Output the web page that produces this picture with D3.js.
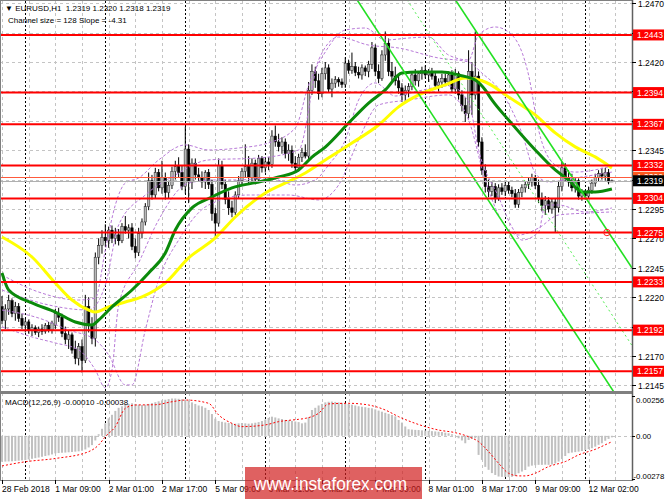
<!DOCTYPE html>
<html><head><meta charset="utf-8">
<script src="https://cdn.jsdelivr.net/npm/d3@7"></script>
<style>body{margin:0;background:#fff}svg{display:block}text{font-family:"Liberation Sans",Arial,sans-serif}</style>
</head><body><svg id="c" width="665" height="499"></svg>
<script>
// ---------- DATA ----------
const bars=[ // [open, high, low, close] EURUSD H1
[1.2212,1.2221,1.2197,1.2200],[1.2200,1.2214,1.2193,1.2210],[1.2210,1.2222,1.2205,1.2217],[1.2217,1.2219,1.2203,1.2206],
[1.2206,1.2216,1.2200,1.2212],[1.2212,1.2215,1.2199,1.2202],[1.2202,1.2206,1.2193,1.2196],[1.2196,1.2202,1.2190,1.2199],
[1.2199,1.2201,1.2189,1.2192],[1.2192,1.2197,1.2187,1.2194],[1.2194,1.2196,1.2188,1.2190],[1.2190,1.2195,1.2186,1.2193],
[1.2193,1.2197,1.2188,1.2191],[1.2191,1.2198,1.2189,1.2196],[1.2196,1.2199,1.2190,1.2192],[1.2192,1.2200,1.2189,1.2198],
[1.2196,1.2210,1.2193,1.2206],[1.2206,1.2211,1.2199,1.2203],[1.2203,1.2206,1.2186,1.2189],[1.2189,1.2195,1.2180,1.2184],
[1.2184,1.2192,1.2176,1.2188],[1.2188,1.2190,1.2172,1.2175],[1.2176,1.2183,1.2163,1.2168],[1.2168,1.2181,1.2162,1.2178],
[1.2178,1.2184,1.2156,1.2166],[1.2166,1.2222,1.2164,1.2212],[1.2212,1.2220,1.2190,1.2196],[1.2196,1.2203,1.2180,1.2185],
[1.2185,1.2258,1.2178,1.2254],[1.2254,1.2270,1.2248,1.2264],[1.2264,1.2277,1.2257,1.2271],[1.2271,1.2282,1.2263,1.2268],
[1.2268,1.2280,1.2262,1.2277],[1.2277,1.2281,1.2266,1.2270],[1.2270,1.2279,1.2265,1.2273],[1.2273,1.2278,1.2264,1.2268],
[1.2268,1.2283,1.2266,1.2280],[1.2280,1.2289,1.2274,1.2277],[1.2277,1.2282,1.2270,1.2279],[1.2279,1.2283,1.2260,1.2263],
[1.2263,1.2270,1.2253,1.2258],[1.2258,1.2279,1.2255,1.2274],[1.2274,1.2287,1.2270,1.2284],[1.2284,1.2300,1.2281,1.2297],
[1.2297,1.2326,1.2294,1.2319],[1.2319,1.2324,1.2303,1.2307],[1.2307,1.2330,1.2304,1.2326],[1.2326,1.2329,1.2310,1.2313],
[1.2313,1.2336,1.2308,1.2322],[1.2322,1.2326,1.2303,1.2309],[1.2309,1.2318,1.2304,1.2315],[1.2315,1.2331,1.2312,1.2327],
[1.2327,1.2336,1.2320,1.2331],[1.2331,1.2339,1.2322,1.2326],[1.2326,1.2332,1.2311,1.2314],[1.2314,1.2365,1.2308,1.2346],
[1.2346,1.2350,1.2300,1.2318],[1.2318,1.2338,1.2312,1.2334],[1.2334,1.2338,1.2320,1.2324],[1.2324,1.2330,1.2318,1.2322],
[1.2322,1.2327,1.2313,1.2318],[1.2318,1.2328,1.2312,1.2326],[1.2326,1.2329,1.2312,1.2316],[1.2316,1.2320,1.2285,1.2291],
[1.2291,1.2296,1.2271,1.2283],[1.2283,1.2338,1.2280,1.2332],[1.2332,1.2336,1.2312,1.2316],[1.2316,1.2320,1.2299,1.2303],
[1.2303,1.2310,1.2290,1.2296],[1.2296,1.2302,1.2288,1.2292],[1.2292,1.2310,1.2290,1.2307],[1.2307,1.2323,1.2304,1.2319],
[1.2319,1.2330,1.2315,1.2327],[1.2327,1.2350,1.2322,1.2331],[1.2331,1.2340,1.2316,1.2322],[1.2322,1.2338,1.2318,1.2334],
[1.2334,1.2337,1.2316,1.2320],[1.2320,1.2341,1.2317,1.2338],[1.2338,1.2340,1.2326,1.2330],[1.2330,1.2338,1.2326,1.2335],
[1.2335,1.2339,1.2328,1.2333],[1.2333,1.2362,1.2330,1.2357],[1.2357,1.2366,1.2348,1.2352],[1.2352,1.2359,1.2344,1.2348],
[1.2348,1.2356,1.2342,1.2352],[1.2352,1.2355,1.2338,1.2342],[1.2342,1.2350,1.2336,1.2345],[1.2345,1.2349,1.2330,1.2334],
[1.2334,1.2340,1.2326,1.2330],[1.2330,1.2342,1.2327,1.2339],[1.2339,1.2347,1.2335,1.2343],[1.2343,1.2350,1.2338,1.2340],
[1.2340,1.2403,1.2337,1.2396],[1.2396,1.2418,1.2392,1.2412],[1.2412,1.2416,1.2398,1.2404],[1.2404,1.2410,1.2388,1.2393],
[1.2393,1.2415,1.2390,1.2410],[1.2410,1.2420,1.2405,1.2415],[1.2415,1.2418,1.2394,1.2397],[1.2397,1.2406,1.2390,1.2402],
[1.2402,1.2408,1.2398,1.2405],[1.2405,1.2407,1.2399,1.2403],[1.2403,1.2406,1.2398,1.2401],[1.2401,1.2424,1.2398,1.2419],
[1.2419,1.2422,1.2410,1.2413],[1.2413,1.2428,1.2410,1.2416],[1.2416,1.2420,1.2408,1.2411],[1.2411,1.2416,1.2406,1.2409],
[1.2409,1.2418,1.2405,1.2415],[1.2415,1.2417,1.2408,1.2412],[1.2412,1.2421,1.2407,1.2418],[1.2418,1.2437,1.2414,1.2432],
[1.2432,1.2435,1.2408,1.2412],[1.2412,1.2418,1.2402,1.2406],[1.2406,1.2430,1.2404,1.2426],[1.2426,1.2446,1.2421,1.2436],
[1.2436,1.2440,1.2408,1.2412],[1.2412,1.2420,1.2404,1.2408],[1.2408,1.2416,1.2400,1.2404],[1.2404,1.2410,1.2393,1.2398],
[1.2398,1.2402,1.2386,1.2392],[1.2392,1.2400,1.2385,1.2396],[1.2396,1.2402,1.2390,1.2399],[1.2399,1.2412,1.2396,1.2409],
[1.2409,1.2414,1.2400,1.2404],[1.2404,1.2412,1.2399,1.2410],[1.2410,1.2416,1.2405,1.2413],[1.2413,1.2417,1.2406,1.2409],
[1.2409,1.2414,1.2403,1.2411],[1.2411,1.2415,1.2405,1.2408],[1.2408,1.2411,1.2397,1.2400],[1.2400,1.2406,1.2395,1.2403],
[1.2403,1.2410,1.2398,1.2406],[1.2406,1.2410,1.2400,1.2403],[1.2403,1.2412,1.2400,1.2409],[1.2409,1.2413,1.2394,1.2397],
[1.2397,1.2414,1.2393,1.2410],[1.2410,1.2412,1.2388,1.2392],[1.2392,1.2396,1.2378,1.2383],[1.2383,1.2390,1.2369,1.2376],
[1.2376,1.2430,1.2372,1.2412],[1.2412,1.2420,1.2375,1.2392],[1.2392,1.2446,1.2388,1.2408],[1.2408,1.2412,1.2348,1.2352],
[1.2352,1.2356,1.2324,1.2328],[1.2328,1.2333,1.2309,1.2314],[1.2314,1.2320,1.2305,1.2310],[1.2310,1.2318,1.2306,1.2314],
[1.2314,1.2317,1.2300,1.2304],[1.2304,1.2316,1.2302,1.2313],[1.2313,1.2317,1.2307,1.2310],[1.2310,1.2318,1.2306,1.2315],
[1.2315,1.2318,1.2308,1.2311],[1.2311,1.2314,1.2305,1.2308],[1.2308,1.2312,1.2296,1.2299],[1.2299,1.2312,1.2296,1.2309],
[1.2309,1.2316,1.2305,1.2313],[1.2313,1.2318,1.2309,1.2316],[1.2316,1.2322,1.2312,1.2318],[1.2318,1.2325,1.2314,1.2322],
[1.2322,1.2324,1.2312,1.2315],[1.2315,1.2320,1.2300,1.2304],[1.2304,1.2309,1.2293,1.2298],[1.2298,1.2306,1.2290,1.2302],
[1.2302,1.2305,1.2292,1.2295],[1.2295,1.2304,1.2291,1.2301],[1.2301,1.2304,1.2275,1.2296],[1.2296,1.2318,1.2292,1.2314],
[1.2314,1.2335,1.2310,1.2330],[1.2330,1.2334,1.2318,1.2322],[1.2322,1.2328,1.2314,1.2318],[1.2318,1.2325,1.2310,1.2313],
[1.2313,1.2322,1.2309,1.2319],[1.2319,1.2321,1.2303,1.2306],[1.2306,1.2312,1.2302,1.2309],[1.2309,1.2311,1.2303,1.2306],
[1.2306,1.2314,1.2304,1.2311],[1.2311,1.2320,1.2308,1.2317],[1.2317,1.2325,1.2314,1.2322],[1.2322,1.2328,1.2318,1.2325],
[1.2325,1.2330,1.2320,1.2323],[1.2323,1.2330,1.2319,1.2326],[1.2326,1.2329,1.2316,1.2318],[1.2318,1.2320,1.2318,1.2319]
];
// moving averages read at bar indices [bar, price]
const yellowMA=[[0,1.22712],[9,1.22542],[16,1.22321],[21,1.22176],[26,1.22091],[28,1.22074],[32,1.22117],[37,1.22159],[42,1.22202],[46,1.22261],[49,1.22321],[56,1.22534],[64,1.22704],[70,1.22882],[79,1.23086],[87,1.23197],[91,1.23256],[97,1.23367],[105,1.23511],[113,1.23664],[119,1.23818],[125,1.23920],[133,1.24005],[139,1.24064],[145,1.24030],[152,1.23903],[160,1.23750],[166,1.23597],[172,1.23478],[178,1.23393],[183,1.23299]];
const greenMA=[[0,1.22406],[2,1.22261],[9,1.22151],[16,1.22074],[22,1.21989],[27,1.21964],[29,1.22006],[33,1.22117],[39,1.22261],[44,1.22406],[49,1.22576],[52,1.22771],[57,1.22959],[63,1.23052],[69,1.23129],[77,1.23180],[83,1.23222],[89,1.23282],[93,1.23392],[97,1.23477],[104,1.23681],[110,1.23851],[115,1.23962],[120,1.24106],[125,1.24115],[132,1.24115],[137,1.24089],[142,1.24047],[145,1.23962],[147,1.23877],[152,1.23707],[160,1.23452],[166,1.23282],[170,1.23197],[174,1.23095],[178,1.23095],[183,1.23120]];
// bands (purple dashed)
const bandUpperA=[[0,1.22389],[11,1.22244],[23,1.22176],[28,1.22193],[31,1.22601],[34,1.22984],[37,1.23171],[41,1.23214],[47,1.23367],[55,1.23495],[62,1.23452],[71,1.23469],[80,1.23512],[88,1.23639],[92,1.24004],[97,1.24285],[103,1.24472],[109,1.24489],[115,1.24387],[122,1.24404],[128,1.24412],[134,1.24259],[140,1.24217],[143,1.24430],[148,1.24498],[153,1.24430],[158,1.24089],[161,1.23622],[166,1.23324],[172,1.23264],[183,1.23316]];
const bandLowerA=[[0,1.21948],[10,1.21854],[16,1.21811],[23,1.21752],[28,1.21582],[31,1.21429],[33,1.21582],[35,1.22134],[41,1.22491],[47,1.22857],[56,1.23171],[64,1.23197],[71,1.23197],[80,1.23214],[88,1.23154],[94,1.23197],[98,1.23324],[103,1.23537],[107,1.23877],[112,1.24022],[118,1.23911],[125,1.23954],[134,1.23997],[140,1.23860],[143,1.23452],[149,1.23052],[153,1.22797],[156,1.22686],[161,1.22754],[163,1.22984],[167,1.22984],[175,1.22925],[183,1.22959]];
const bandUpperB=[[0,1.22261],[14,1.22134],[26,1.22091],[31,1.22304],[35,1.22814],[43,1.23069],[52,1.23239],[62,1.23367],[77,1.23384],[89,1.23452],[95,1.24217],[101,1.24412],[110,1.24344],[119,1.24319],[131,1.24234],[140,1.24200],[144,1.24106],[150,1.23937],[156,1.23596],[160,1.23256],[164,1.23180],[172,1.23214],[183,1.23264]];
const bandLowerB=[[0,1.22091],[11,1.22023],[20,1.21921],[28,1.21837],[32,1.21709],[37,1.21454],[39,1.21454],[43,1.21921],[47,1.22346],[53,1.22686],[62,1.22984],[74,1.23069],[86,1.23069],[95,1.23027],[101,1.23154],[107,1.23537],[113,1.23835],[122,1.23877],[134,1.23920],[140,1.23707],[145,1.23197],[149,1.22899],[155,1.22729],[161,1.22788],[167,1.22899],[176,1.22916],[183,1.22925]];
// regression channel (bar, price) end points
const channelUpper=[[136.0,1.2473],[189.0,1.2245]];
const channelMiddle=[[121.5,1.2473],[189.0,1.2179]];
const channelLower=[[106.5,1.2473],[189.0,1.2116]];
const markerPoint=[181.5,1.2275];
// support / resistance levels
const levels=[1.2443,1.2394,1.2367,1.2332,1.2304,1.2275,1.2233,1.2192,1.2157];
const bidPrice=1.2319, askPrice=1.2322;
const priceTicks=[1.2145,1.2170,1.2195,1.2220,1.2245,1.2270,1.2295,1.2320,1.2345,1.2370,1.2395,1.2420,1.2445,1.2470];
// MACD main histogram values x1e-5 per bar
const macdHistE5=[-167,-166,-165,-164,-162,-160,-158,
-156,-152,-148,-144,-140,-135,-130,-126,-120,
-113,-111,-109,-108,-106,-104,-102,-100,-96,-88,-75,-60,
-30,10,45,80,112,135,160,180,190,198,205,209,205,200,198,200,205,
210,216,222,228,232,236,240,240,238,235,232,
226,215,205,195,190,180,166,140,
110,95,90,86,82,80,
78,80,82,80,78,80,84,88,95,105,115,
123,118,112,108,102,100,96,92,88,
80,85,120,166,180,195,205,215,
219,220,218,215,212,209,205,200,195,190,
187,184,180,177,170,162,155,148,141,134,125,
102,85,60,42,40,38,37,35,
34,32,30,28,26,24,20,16,10,1,
-16,-30,-48,-27,-20,-16,
-123,-155,-200,-219,-240,-252,-262,-264,
-265,-266,-264,-258,-241,-230,-220,-198,-192,-189,
-187,-187,-186,-187,-185,-178,-166,-150,-130,-112,
-108,-105,-102,-98,-92,-86,-80,-70,-58,-48,-32,-20,-10];
// MACD signal line [bar, value x1e-5]
const macdSignalE5=[[0,-194],[7,-167],[16,-146],[26,-102],[29,-59],[31,-6],[34,59],[37,177],[40,198],[46,200],[51,219],[55,230],[62,209],[65,134],[69,80],[72,59],[79,70],[83,91],[89,106],[91,112],[95,145],[98,205],[104,209],[110,198],[115,166],[119,123],[124,80],[127,59],[131,37],[136,20],[140,-6],[143,-38],[146,-102],[149,-177],[152,-241],[155,-258],[157,-258],[160,-241],[164,-198],[169,-166],[173,-123],[178,-87],[182,-48],[183,-38]];
const macdTicks=[0.00256,0,-0.00278];
const macdTickLabels=["0.00256","0.00","-0.00278"];
const timeLabels=["28 Feb 2018","1 Mar 09:00","2 Mar 01:00","2 Mar 17:00","5 Mar 09:00","6 Mar 01:00","6 Mar 17:00","7 Mar 09:00","8 Mar 01:00","8 Mar 17:00","9 Mar 09:00","12 Mar 02:00"];
const timeLabelBars=[0,16,32,48,64,80,96,112,128,144,160,176];
const gridBars=[0,8,16,24,32,40,48,56,64,72,80,88,96,104,112,120,128,136,144,152,160,168,176,184];
const daySepBars=[7,31,55,79,103,127,151,175];
const headerText="\u25BC EURUSD,H1  1.2319 1.2320 1.2318 1.2319";
const channelText="Channel size = 128 Slope = -4.31";
const macdText="MACD(12,26,9) -0.00010 -0.00038";

// ---------- LAYOUT ----------
const svg=d3.select("#c");
const R=632, mainTop=1, mainBot=391, macdTop=393, macdBot=480;
const x=d3.scaleLinear().domain([0,183]).range([2,611.9]);
const y=d3.scaleLinear().domain([1.2145,1.2470]).range([385.4,3.2]);
const m=d3.scaleLinear().domain([-0.00278,0.00256]).range([479,396]);

svg.append("rect").attr("width",665).attr("height",499).attr("fill","#fff");
const defs=svg.append("defs");
defs.append("clipPath").attr("id","cm").append("rect").attr("x",1).attr("y",mainTop).attr("width",R-1).attr("height",mainBot-mainTop);
defs.append("clipPath").attr("id","cd").append("rect").attr("x",1).attr("y",macdTop).attr("width",R-1).attr("height",macdBot-macdTop);

const main=svg.append("g").attr("clip-path","url(#cm)");
const sub=svg.append("g").attr("clip-path","url(#cd)");

// grid
const gridCol="#c4c4c4";
main.selectAll(".hg").data(priceTicks).join("line").attr("x1",0).attr("x2",R).attr("y1",d=>Math.round(y(d))+0.5).attr("y2",d=>Math.round(y(d))+0.5).attr("stroke",gridCol).attr("stroke-dasharray","3,3");
[main,sub].forEach((g,k)=>{
  g.selectAll(".vg").data(gridBars).join("line").attr("x1",d=>Math.round(x(d))+0.5).attr("x2",d=>Math.round(x(d))+0.5).attr("y1",k?macdTop:mainTop).attr("y2",k?macdBot:mainBot).attr("stroke",gridCol).attr("stroke-dasharray","3,3");
});
sub.append("line").attr("x1",0).attr("x2",R).attr("y1",Math.round(m(0))+0.5).attr("y2",Math.round(m(0))+0.5).attr("stroke",gridCol).attr("stroke-dasharray","3,3");
[main,sub].forEach((g,k)=>{
  g.selectAll(".ds").data(daySepBars).join("line").attr("x1",d=>Math.round(x(d))+0.5).attr("x2",d=>Math.round(x(d))+0.5).attr("y1",k?macdTop:mainTop).attr("y2",k?macdBot:mainBot).attr("stroke","#000").attr("stroke-dasharray","2,2");
});

// candles
const cg=main.append("g");
bars.forEach((b,i)=>{
  const [o,h,l,c]=b, cx=x(i), bull=c>=o;
  cg.append("line").attr("x1",cx).attr("x2",cx).attr("y1",y(h)).attr("y2",y(l)).attr("stroke","#000").attr("stroke-width",1);
  const top=y(Math.max(o,c)), bot=y(Math.min(o,c));
  cg.append("rect").attr("x",cx-1.2).attr("y",top).attr("width",2.4).attr("height",Math.max(bot-top,0.8))
    .attr("fill",bull?"#b8b8b8":"#000").attr("stroke",bull?"#222":"#000").attr("stroke-width",0.5);
});

// bands
const ln=d3.line().x(d=>x(d[0])).y(d=>y(d[1])).curve(d3.curveMonotoneX);
[bandUpperA,bandLowerA,bandUpperB,bandLowerB].forEach(s=>{
  main.append("path").attr("d",ln(s)).attr("fill","none").attr("stroke","#b87ad8").attr("stroke-width",1).attr("stroke-dasharray","3,2");
});
// moving averages
main.append("path").attr("d",ln(yellowMA)).attr("fill","none").attr("stroke","#ffff00").attr("stroke-width",3);
main.append("path").attr("d",ln(greenMA)).attr("fill","none").attr("stroke","#0b8a0b").attr("stroke-width",3);

// channel
const straight=d3.line().x(d=>x(d[0])).y(d=>y(d[1]));
main.append("path").attr("d",straight(channelUpper)).attr("stroke","#22e022").attr("stroke-width",1.6).attr("fill","none");
main.append("path").attr("d",straight(channelLower)).attr("stroke","#22e022").attr("stroke-width",1.6).attr("fill","none");
main.append("path").attr("d",straight(channelMiddle)).attr("stroke","#55ee55").attr("stroke-width",1).attr("stroke-dasharray","2,3").attr("fill","none");

// price lines
main.append("line").attr("x1",0).attr("x2",R).attr("y1",Math.round(y(askPrice))+0.5).attr("y2",Math.round(y(askPrice))+0.5).attr("stroke","#ff5a3c").attr("stroke-width",1);
main.append("line").attr("x1",0).attr("x2",R).attr("y1",Math.round(y(bidPrice))+0.5).attr("y2",Math.round(y(bidPrice))+0.5).attr("stroke","#b0b0b0").attr("stroke-width",1);
main.selectAll(".lv").data(levels).join("line").attr("x1",0).attr("x2",R).attr("y1",d=>y(d)).attr("y2",d=>y(d)).attr("stroke","#ff0000").attr("stroke-width",2);
main.append("circle").attr("cx",x(markerPoint[0])).attr("cy",y(markerPoint[1])).attr("r",3.2).attr("fill","none").attr("stroke","#ff2020").attr("stroke-width",1);

// MACD
sub.selectAll(".hb").data(macdHistE5).join("rect")
  .attr("x",(d,i)=>x(i)-1).attr("width",2)
  .attr("y",d=>Math.min(m(0),m(d*1e-5))).attr("height",d=>Math.abs(m(d*1e-5)-m(0)))
  .attr("fill","#c0c0c0");
const sl=d3.line().x(d=>x(d[0])).y(d=>m(d[1]*1e-5)).curve(d3.curveMonotoneX);
sub.append("path").attr("d",sl(macdSignalE5)).attr("fill","none").attr("stroke","#ff0000").attr("stroke-width",1).attr("stroke-dasharray","2,2");

// frames
svg.append("rect").attr("x",0.5).attr("y",0.5).attr("width",R).attr("height",mainBot).attr("fill","none").attr("stroke","#808080");
svg.append("rect").attr("x",0).attr("y",mainBot).attr("width",R+1).attr("height",macdTop-mainBot).attr("fill","#808080");
svg.append("rect").attr("x",0.5).attr("y",macdTop+0.5).attr("width",R).attr("height",macdBot-macdTop).attr("fill","none").attr("stroke","#808080");
svg.append("line").attr("x1",R+0.5).attr("x2",R+0.5).attr("y1",0).attr("y2",macdBot+1).attr("stroke","#606060").attr("stroke-width",1.5);

// right axis ticks + labels
const ax=svg.append("g").attr("font-size","8.5px");
priceTicks.forEach(p=>{
  const yy=Math.round(y(p))+0.5;
  ax.append("line").attr("x1",R).attr("x2",R+4).attr("y1",yy).attr("y2",yy).attr("stroke","#000");
  ax.append("text").attr("x",R+6).attr("y",yy+3).text(p.toFixed(4)).attr("fill","#000");
});
macdTicks.forEach((v,k)=>{
  const yy=k===0?400:(k===1?m(0):476);
  ax.append("line").attr("x1",R).attr("x2",R+3).attr("y1",Math.round(m(v))+0.5).attr("y2",Math.round(m(v))+0.5).attr("stroke","#000");
  ax.append("text").attr("x",k===2?R+1.5:R+4).attr("y",yy+3).attr("font-size","7.8px").text(macdTickLabels[k]).attr("fill","#000");
});
// level labels
function tag(p,fill,txt){
  const yy=y(p);
  ax.append("rect").attr("x",R+1).attr("y",yy-5.5).attr("width",31).attr("height",11).attr("fill",fill);
  ax.append("text").attr("x",R+5).attr("y",yy+3).text(txt).attr("fill","#fff");
}
levels.forEach(p=>tag(p,"#ff0000",p.toFixed(4)));
tag(askPrice,"#ff5a1e",askPrice.toFixed(4));
tag(bidPrice,"#000000",bidPrice.toFixed(4));

// time axis
const tx=svg.append("g").attr("font-size","8.5px");
timeLabelBars.forEach((b,k)=>{
  const xx=Math.round(x(b))+0.5;
  tx.append("line").attr("x1",xx).attr("x2",xx).attr("y1",macdBot).attr("y2",macdBot+4).attr("stroke","#000");
  tx.append("text").attr("x",x(b)).attr("y",492).text(timeLabels[k]).attr("fill","#000");
});

// header texts
svg.append("text").attr("x",5).attr("y",11).attr("font-size","8px").style("white-space","pre").text(headerText);
svg.append("text").attr("x",8).attr("y",23).attr("font-size","8px").text(channelText);
svg.append("text").attr("x",5).attr("y",405).attr("font-size","8px").text(macdText);

// watermark
svg.append("rect").attr("x",245).attr("y",467).attr("width",177).attr("height",32).attr("fill","rgb(210,30,30)").attr("opacity",0.7);
svg.append("text").attr("x",254).attr("y",490).attr("font-size","18px").attr("fill","#fff").attr("textLength",153).attr("lengthAdjust","spacingAndGlyphs").text("www.instaforex.com");
</script></body></html>
